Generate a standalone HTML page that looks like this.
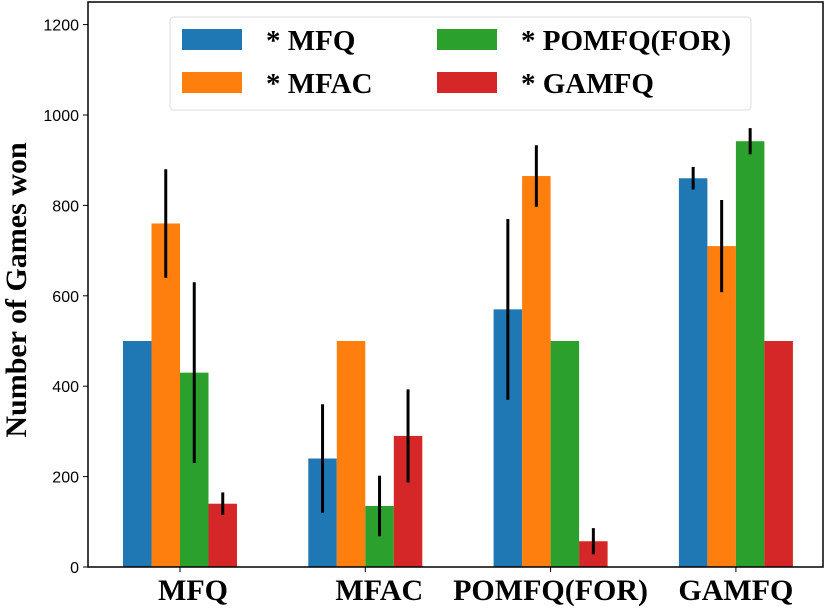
<!DOCTYPE html>
<html><head><meta charset="utf-8"><style>
body{margin:0;background:#fff}
svg text{font-family:"Liberation Serif",serif;font-weight:bold}
</style></head><body>
<svg id="chart" width="831" height="610" xmlns="http://www.w3.org/2000/svg">
<rect x="0" y="0" width="831" height="610" fill="#fff"/>
<g id="bars"></g>
<g id="axes"></g>
</svg>
<script>
const categories = ["MFQ","MFAC","POMFQ(FOR)","GAMFQ"];
const seriesNames = ["* MFQ","* MFAC","* POMFQ(FOR)","* GAMFQ"];
const colors = ["#1f77b4","#ff7f0e","#2ca02c","#d62728"];
const valMFQ = [500, 240, 570, 860];
const valMFAC = [760, 500, 865, 710];
const valPOMFQ = [430, 135, 500, 942];
const valGAMFQ = [140, 290, 57, 500];
const errMFQ = [0, 120, 200, 25];
const errMFAC = [120, 0, 68, 102];
const errPOMFQ = [200, 67, 0, 29];
const errGAMFQ = [25, 103, 29, 0];
const yTicks = [0,200,400,600,800,1000,1200];
const labelShift = [13, 14, 0, 0];
const series=[valMFQ,valMFAC,valPOMFQ,valGAMFQ];
const errs=[errMFQ,errMFAC,errPOMFQ,errGAMFQ];
const L=88,R=823,T=2,B=567;
const y=v=>567-v*0.452;
const x=(i,s)=>180+i*185.3+(s-2)*28.5;
const NS="http://www.w3.org/2000/svg";
function mk(p,t,a){const e=document.createElementNS(NS,t);for(const k in a)e.setAttribute(k,a[k]);p.appendChild(e);return e;}
const gb=document.getElementById('bars'),ga=document.getElementById('axes');
series.forEach((vals,s)=>vals.forEach((v,i)=>{
 const r=mk(gb,'rect',{x:x(i,s),y:y(v),width:28.5,height:y(0)-y(v),fill:colors[s]});
 
 
 const e=errs[s][i];
 if(e>0){const l=mk(gb,'line',{x1:x(i,s)+14.25,x2:x(i,s)+14.25,y1:y(v-e),y2:y(v+e),stroke:'#000','stroke-width':3});
 
 }
}));
const frame=mk(ga,'rect',{x:L,y:T,width:R-L,height:B-T,fill:'none',stroke:'#000','stroke-width':1.5});


yTicks.forEach(t=>{
 mk(ga,'line',{x1:L-5,x2:L,y1:y(t),y2:y(t),stroke:'#000','stroke-width':1});
 const tx=mk(ga,'text',{x:L-9,y:y(t)+6,'text-anchor':'end','font-size':16});
 tx.setAttribute('style','font-family:"Liberation Sans",sans-serif;font-weight:normal');
 tx.textContent=t;
 
 
});
categories.forEach((c,i)=>{
 mk(ga,'line',{x1:x(i,2),x2:x(i,2),y1:B,y2:B+5,stroke:'#000'});
 const tx=mk(ga,'text',{x:x(i,2)+labelShift[i],y:600,'text-anchor':'middle','font-size':30});
 tx.textContent=c;
 
 
});
const yt=mk(ga,'text',{x:0,y:0,'text-anchor':'middle','font-size':30,transform:'translate(26,290) rotate(-90)'});
yt.textContent='Number of Games won';


const lg=mk(ga,'g',{});


mk(lg,'rect',{x:170,y:17,width:581,height:93,rx:4,fill:'#fff','fill-opacity':0.8,stroke:'#ddd'});
seriesNames.forEach((n,s)=>{
 const cx=s<2?182:437, cy=s%2===0?29:72;
 const p=mk(lg,'rect',{x:cx,y:cy,width:60,height:21,fill:colors[s]});
 
 
 const t=mk(lg,'text',{x:cx+84,y:cy+21,'font-size':29});
 t.textContent=n;
 
 
});
</script>
</body></html>
